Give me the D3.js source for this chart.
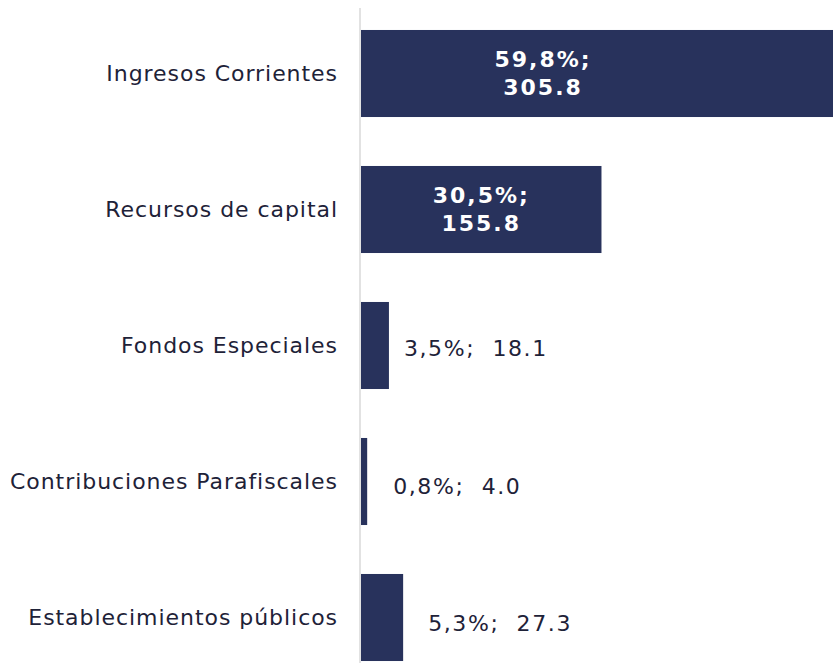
<!DOCTYPE html>
<html>
<head>
<meta charset="utf-8">
<script src="https://cdn.jsdelivr.net/npm/d3@7"></script>
<style>
  body { margin: 0; background: #fff; }
  text { font-family: "DejaVu Sans", Verdana, sans-serif; }
</style>
</head>
<body>
<div id="chart"></div>
<script>
const categories = [
  "Ingresos Corrientes",
  "Recursos de capital",
  "Fondos Especiales",
  "Contribuciones Parafiscales",
  "Establecimientos públicos"
];
const values = [305.8, 155.8, 18.1, 4.0, 27.3];
const shares = ["59,8%", "30,5%", "3,5%", "0,8%", "5,3%"];

const svgWidth = 833,
  svgHeight = 663,
  axisX = 361;

const data = categories.map((c, i) => ({ cat: c, value: values[i], share: shares[i] }));

let x = d3.scaleLinear().domain([0, 305.8]).range([axisX, 833]),
  y = d3.scaleBand().domain(categories).range([5.5, 685.5]).paddingInner(0.36).paddingOuter(0.18);

let svg = d3
  .select("#chart")
  .append("svg")
  .attr("width", svgWidth)
  .attr("height", svgHeight);

// bars
svg
  .append("g")
  .selectAll("rect")
  .data(data)
  .enter()
  .append("rect")
  .attr("x", axisX)
  .attr("y", d => y(d.cat))
  .attr("width", d => x(d.value) - axisX)
  .attr("height", y.bandwidth())
  .attr("fill", "#28325c");

// axis line
svg
  .append("line")
  .attr("x1", axisX - 1)
  .attr("x2", axisX - 1)
  .attr("y1", 8)
  .attr("y2", svgHeight)
  .attr("stroke", "#d9d9d9")
  .attr("stroke-width", 1.5);

// category labels
svg
  .append("g")
  .selectAll("text")
  .data(data)
  .enter()
  .append("text")
  .attr("x", 338)
  .attr("y", d => y(d.cat) + y.bandwidth() / 2)
  .attr("dy", "0.35em")
  .attr("text-anchor", "end")
  .attr("font-size", 22)
  .attr("letter-spacing", 0.95)
  .attr("fill", "#1e2238")
  .text(d => d.cat);

// value labels: inside (two lines, bold white) for big bars, outside otherwise
const big = data.filter(d => x(d.value) - axisX > 150);
const small = data.filter(d => x(d.value) - axisX <= 150);

let inside = svg
  .append("g")
  .selectAll("text")
  .data(big)
  .enter()
  .append("text")
  .attr("text-anchor", "middle")
  .attr("font-size", 22)
  .attr("font-weight", "bold")
  .attr("letter-spacing", 2)
  .attr("fill", "#fff")
  .attr("transform", d => {
    const cx = axisX + Math.min((x(d.value) - axisX) / 2, 182);
    return "translate(" + cx + "," + (y(d.cat) + y.bandwidth() / 2) + ")";
  });
inside.append("tspan").attr("x", 0).attr("y", -14).attr("dy", "0.35em").text(d => d.share + ";");
inside.append("tspan").attr("x", 0).attr("y", 14).attr("dy", "0.35em").text(d => d.value.toFixed(1));

// outside labels (gap after bar end differs slightly per row in the original)
const gap = { "Fondos Especiales": 15, "Contribuciones Parafiscales": 26, "Establecimientos públicos": 25 };
const lift = { "Fondos Especiales": 3, "Contribuciones Parafiscales": 5, "Establecimientos públicos": 6 };

svg
  .append("g")
  .selectAll("text")
  .data(small)
  .enter()
  .append("text")
  .attr("x", d => x(d.value) + gap[d.cat])
  .attr("y", d => y(d.cat) + y.bandwidth() / 2 + lift[d.cat])
  .attr("dy", "0.35em")
  .attr("font-size", 22)
  .attr("letter-spacing", 1.6)
  .attr("fill", "#1e2238")
  .attr("xml:space", "preserve")
  .text(d => d.share + ";  " + d.value.toFixed(1));
</script>
</body>
</html>
